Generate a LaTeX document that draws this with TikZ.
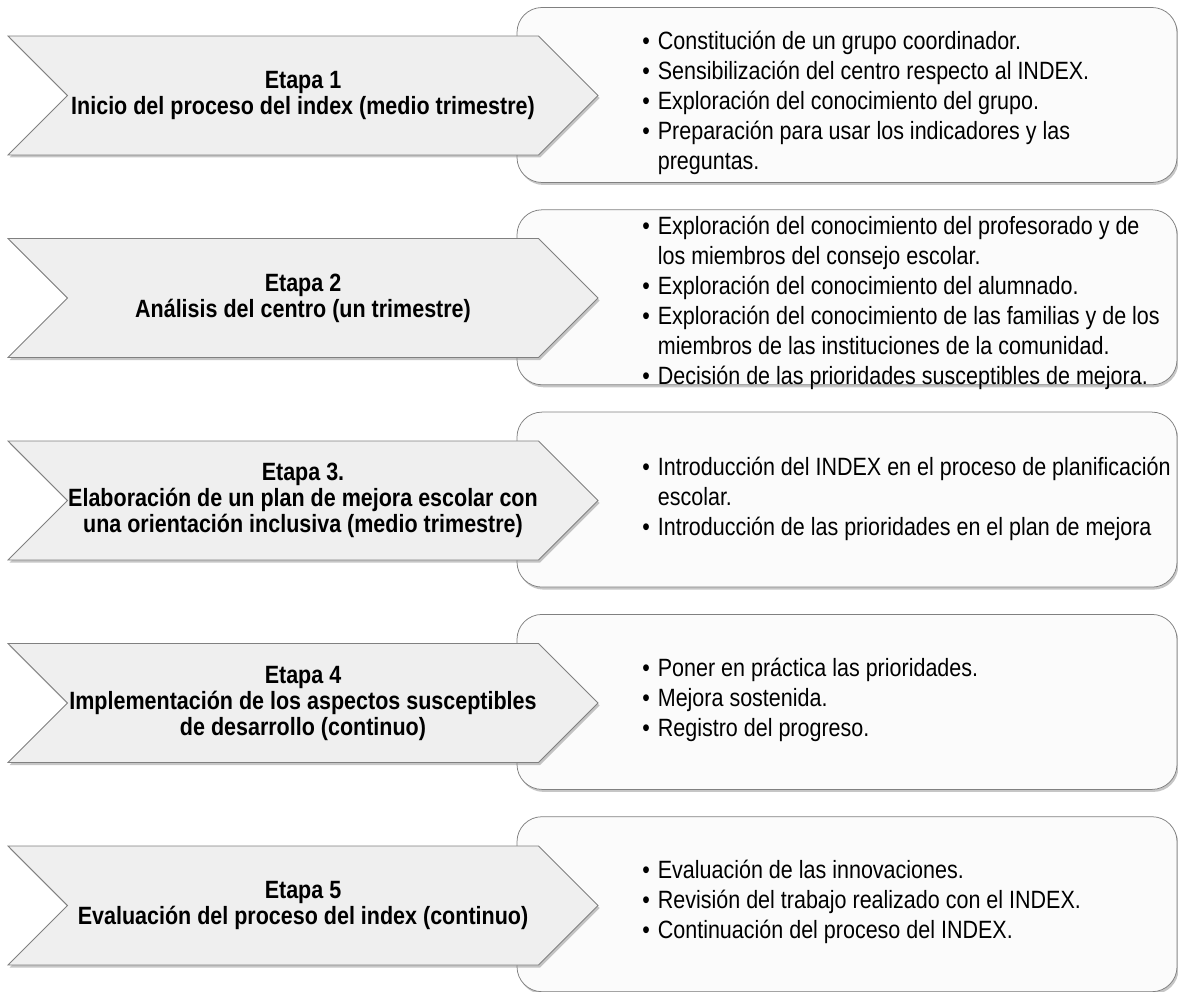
\documentclass[tikz,border=0pt]{standalone}
\usepackage{fontspec}
\setmainfont[FakeStretch=0.86]{Liberation Sans}
\usetikzlibrary{shapes.symbols,shadows}

\definecolor{gris}{RGB}{128,128,128}
\definecolor{fondoetapa}{RGB}{239,239,239}
\definecolor{fondolista}{RGB}{251,251,251}

\newcommand{\punto}{\par\hangindent=0.62em\hangafter=1\noindent\makebox[0.62em][l]{\textbullet}}

\tikzset{every picture/.style={line width=0.75pt},
	sombra/.style={drop shadow={shadow xshift=1.5pt,shadow yshift=-2.5pt,fill=black!50,opacity=0.45}},
	etapa/.style={signal, signal from=west, signal to=east, signal pointer angle=90, draw=gris, fill=fondoetapa, sombra, minimum width=590, minimum height=119, inner sep=0pt},
	titulo/.style={align=flush center, inner sep=0pt, font=\bfseries\fontsize{25}{26}\selectfont},
	caja/.style={draw=gris, fill=fondolista, rounded corners=25, sombra, minimum width=660, minimum height=175},
	lista/.style={anchor=west, text width=560, align=flush left, inner sep=0pt, font=\fontsize{25}{30}\selectfont}}

\begin{document}
\begin{tikzpicture}[x=1pt,y=-1pt]
	\useasboundingbox (0,0) rectangle (1178,992);

	%Shape: Rounded Rect
	\node[caja] (caja1) at (847,95) {};
	%Shape: Rounded Rect
	\node[caja] (caja2) at (847,297.3) {};
	%Shape: Rounded Rect
	\node[caja] (caja3) at (847,499.6) {};
	%Shape: Rounded Rect
	\node[caja] (caja4) at (847,701.9) {};
	%Shape: Rounded Rect
	\node[caja] (caja5) at (847,904.2) {};

	%Shape: Chevron
	\node[etapa] (etapa1) at (303,95.5) {};
	%Shape: Chevron
	\node[etapa] (etapa2) at (303,298) {};
	%Shape: Chevron
	\node[etapa] (etapa3) at (303,500.5) {};
	%Shape: Chevron
	\node[etapa] (etapa4) at (303,703) {};
	%Shape: Chevron
	\node[etapa] (etapa5) at (303,905.5) {};

	% Text Node
	\node[titulo] (titulo1) at (etapa1) {Etapa 1\\Inicio del proceso del index (medio trimestre)};
	% Text Node
	\node[titulo] (titulo2) at (etapa2) {Etapa 2\\Análisis del centro (un trimestre)};
	% Text Node
	\node[titulo] (titulo3) at (etapa3) {Etapa 3.\\Elaboración de un plan de mejora escolar con\\una orientación inclusiva (medio trimestre)};
	% Text Node
	\node[titulo] (titulo4) at (etapa4) {Etapa 4\\Implementación de los aspectos susceptibles\\de desarrollo (continuo)};
	% Text Node
	\node[titulo] (titulo5) at (etapa5) {Etapa 5\\Evaluación del proceso del index (continuo)};

	% Text Node
	\node[lista] (lista1) at (642,97) {\punto Constitución de un grupo coordinador.
		\punto Sensibilización del centro respecto al INDEX.
		\punto Exploración del conocimiento del grupo.
		\punto Preparación para usar los indicadores y las\newline preguntas.\par};
	% Text Node
	\node[lista] (lista2) at (642,297.3) {\punto Exploración del conocimiento del profesorado y de\newline los miembros del consejo escolar.
		\punto Exploración del conocimiento del alumnado.
		\punto Exploración del conocimiento de las familias y de los\newline miembros de las instituciones de la comunidad.
		\punto Decisión de las prioridades susceptibles de mejora.\par};
	% Text Node
	\node[lista] (lista3) at (642,493) {\punto Introducción del INDEX en el proceso de planificación\newline escolar.
		\punto Introducción de las prioridades en el plan de mejora\par};
	% Text Node
	\node[lista] (lista4) at (642,694) {\punto Poner en práctica las prioridades.
		\punto Mejora sostenida.
		\punto Registro del progreso.\par};
	% Text Node
	\node[lista] (lista5) at (642,896) {\punto Evaluación de las innovaciones.
		\punto Revisión del trabajo realizado con el INDEX.
		\punto Continuación del proceso del INDEX.\par};

\end{tikzpicture}
\end{document}
